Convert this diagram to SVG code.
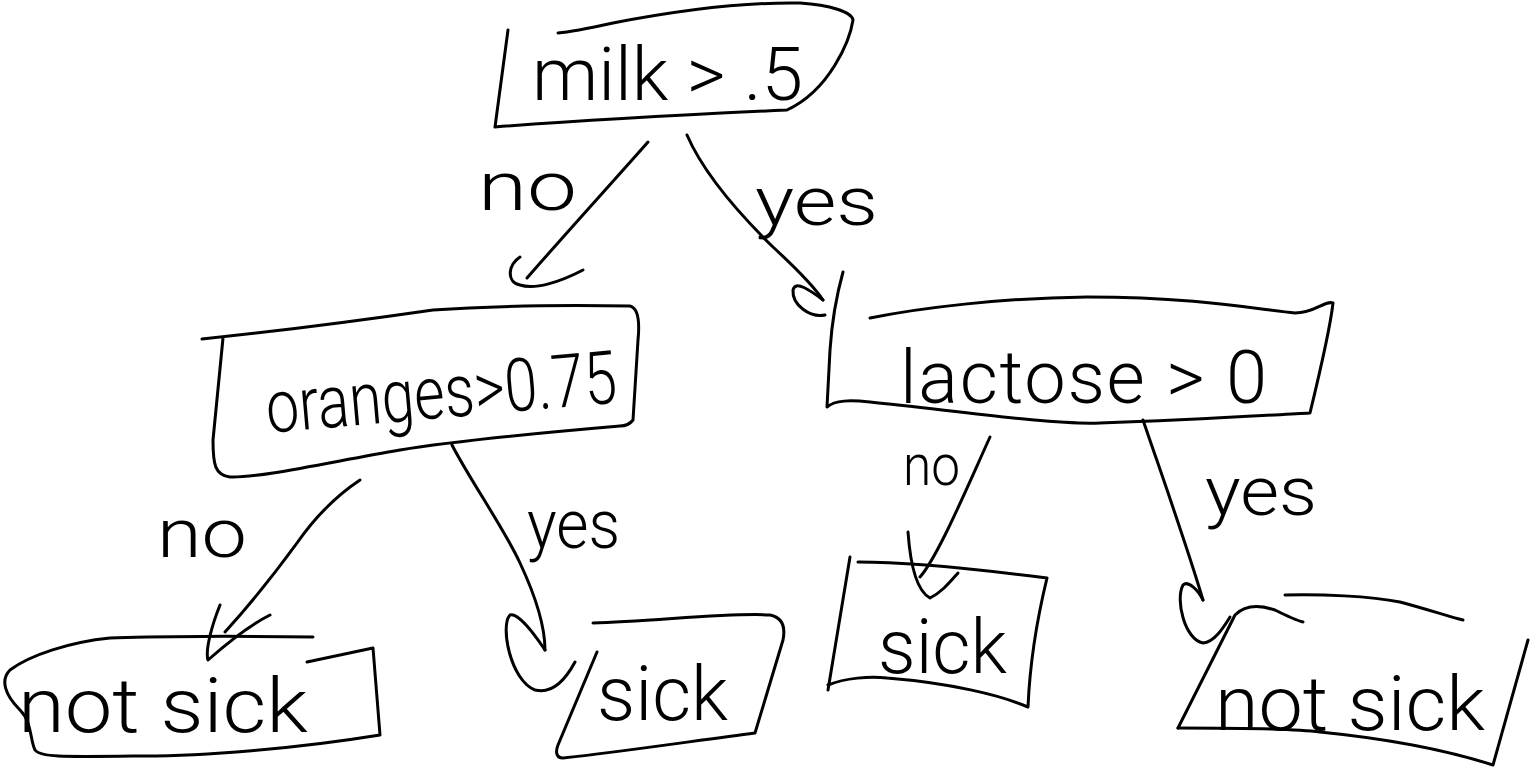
<svg xmlns="http://www.w3.org/2000/svg" width="1531" height="770" viewBox="0 0 1531 770">
  <style>
    .ink { fill: none; stroke: #000; stroke-width: 3; stroke-linecap: round; stroke-linejoin: round; }
    .label { font-family: Roboto, "Liberation Sans", sans-serif; font-weight: 300; fill: #000; }
    .node-text { font-size: 74px; }
    .leaf-text { font-size: 76px; }
    .edge-text { font-size: 68px; }
  </style>
  <rect width="1531" height="770" fill="#fff"/>

  <!-- decision: milk -->
  <g id="node-milk">
    <path class="ink" d="M508,30 L495,127 C560,122 680,115 787,110 C830,90 850,40 853,20 C852,12 830,5 800,3 C740,2 680,10 613,23 C590,28 570,32 558,33"/>
    <text class="label node-text" x="532" y="100" textLength="271" lengthAdjust="spacingAndGlyphs">milk &gt; .5</text>
  </g>

  <!-- decision: oranges -->
  <g id="node-oranges">
    <path class="ink" d="M202,339 C260,333 350,322 433,310 C500,305 560,305 630,306 C638,308 640,320 638,340 L633,420 C630,424 625,426 620,426 C550,432 460,440 400,450 C330,462 260,478 230,477 C215,475 213,465 213,440 L223,338"/>
    <text class="label node-text" x="268" y="433" transform="rotate(-5 268 433)" textLength="352" lengthAdjust="spacingAndGlyphs">oranges&gt;0.75</text>
  </g>

  <!-- decision: lactose -->
  <g id="node-lactose">
    <path class="ink" d="M843,272 C838,290 832,320 830,350 L827,407 C835,400 850,400 870,402 C950,410 1050,425 1100,423 C1200,420 1270,415 1310,413 C1318,380 1330,330 1333,303 C1325,300 1315,313 1295,313 C1260,310 1200,297 1087,297 C1000,298 920,308 870,318"/>
    <text class="label node-text" x="900" y="403" textLength="367" lengthAdjust="spacing">lactose &gt; 0</text>
  </g>

  <!-- leaves -->
  <g id="leaf-not-sick-1">
    <path class="ink" d="M313,637 C250,636 150,636 110,638 C70,642 30,655 10,670 C0,680 5,695 20,710 C32,722 30,740 35,750 C40,757 60,757 133,756 C200,757 300,748 380,735 C377,700 375,670 373,648 L307,662"/>
    <text class="label leaf-text" x="18" y="732" textLength="290" lengthAdjust="spacingAndGlyphs">not sick</text>
  </g>

  <g id="leaf-sick-1">
    <path class="ink" d="M593,623 C650,622 730,612 770,615 C785,618 785,630 783,640 L755,733 C700,740 620,752 563,758 C555,758 556,750 558,745 L597,652"/>
    <text class="label leaf-text" x="597" y="720" textLength="131" lengthAdjust="spacingAndGlyphs">sick</text>
  </g>

  <g id="leaf-sick-2">
    <path class="ink" d="M850,557 L828,690"/>
    <path class="ink" d="M828,685 C845,678 870,676 887,678 C950,683 1000,695 1028,707 C1030,660 1038,615 1047,578 C1000,572 920,562 858,562"/>
    <text class="label leaf-text" x="878" y="673" textLength="129" lengthAdjust="spacingAndGlyphs">sick</text>
  </g>

  <g id="leaf-not-sick-2">
    <path class="ink" d="M1285,595 C1320,594 1370,596 1400,602 C1430,610 1450,617 1463,620"/>
    <path class="ink" d="M1178,728 L1235,615 C1245,605 1260,605 1275,610 C1285,615 1295,620 1303,622"/>
    <path class="ink" d="M1178,728 C1230,728 1290,728 1320,732 C1380,738 1440,748 1493,765 L1528,640"/>
    <text class="label leaf-text" x="1215" y="730" textLength="270" lengthAdjust="spacingAndGlyphs">not sick</text>
  </g>

  <!-- connectors with their branch labels -->
  <g id="connectors">
    <g id="edge-milk-no">
      <path class="ink" d="M648,142 C610,185 560,240 527,278"/>
      <path class="ink" d="M520,257 C508,265 506,282 520,285 C535,290 560,282 583,270"/>
      <text class="label edge-text" x="478" y="210" textLength="99" lengthAdjust="spacingAndGlyphs">no</text>
    </g>
    <g id="edge-milk-yes">
      <path class="ink" d="M687,135 C700,165 725,200 773,247 C800,272 815,288 823,300"/>
      <path class="ink" d="M823,300 C810,290 795,280 793,290 C792,305 810,318 825,315"/>
      <text class="label edge-text" x="755" y="225" textLength="123" lengthAdjust="spacingAndGlyphs">yes</text>
    </g>
    <g id="edge-oranges-no">
      <path class="ink" d="M360,480 C345,490 320,510 297,543 C270,580 245,610 225,632"/>
      <path class="ink" d="M220,605 C212,625 205,650 208,660 C225,645 250,625 270,615"/>
      <text class="label edge-text" x="157" y="557" textLength="90" lengthAdjust="spacingAndGlyphs">no</text>
    </g>
    <g id="edge-oranges-yes">
      <path class="ink" d="M452,445 C470,480 505,530 520,563 C535,595 545,625 545,650"/>
      <path class="ink" d="M545,650 C535,635 518,612 510,615 C500,625 510,680 535,690 C555,695 568,675 575,662"/>
      <text class="label edge-text" x="527" y="548" textLength="93" lengthAdjust="spacingAndGlyphs">yes</text>
    </g>
    <g id="edge-lactose-no">
      <path class="ink" d="M990,437 C975,470 960,505 945,535 C935,555 928,568 920,577"/>
      <path class="ink" d="M908,532 C910,560 915,590 930,598 C942,592 950,582 958,573"/>
      <text class="label edge-text" x="903" y="485" textLength="57" lengthAdjust="spacingAndGlyphs" style="font-size:58px">no</text>
    </g>
    <g id="edge-lactose-yes">
      <path class="ink" d="M1143,420 C1160,470 1185,540 1203,600"/>
      <path class="ink" d="M1203,600 C1198,590 1188,580 1183,585 C1175,600 1185,640 1203,643 C1215,642 1225,625 1230,617"/>
      <text class="label edge-text" x="1205" y="515" textLength="112" lengthAdjust="spacingAndGlyphs">yes</text>
    </g>
  </g>
</svg>
